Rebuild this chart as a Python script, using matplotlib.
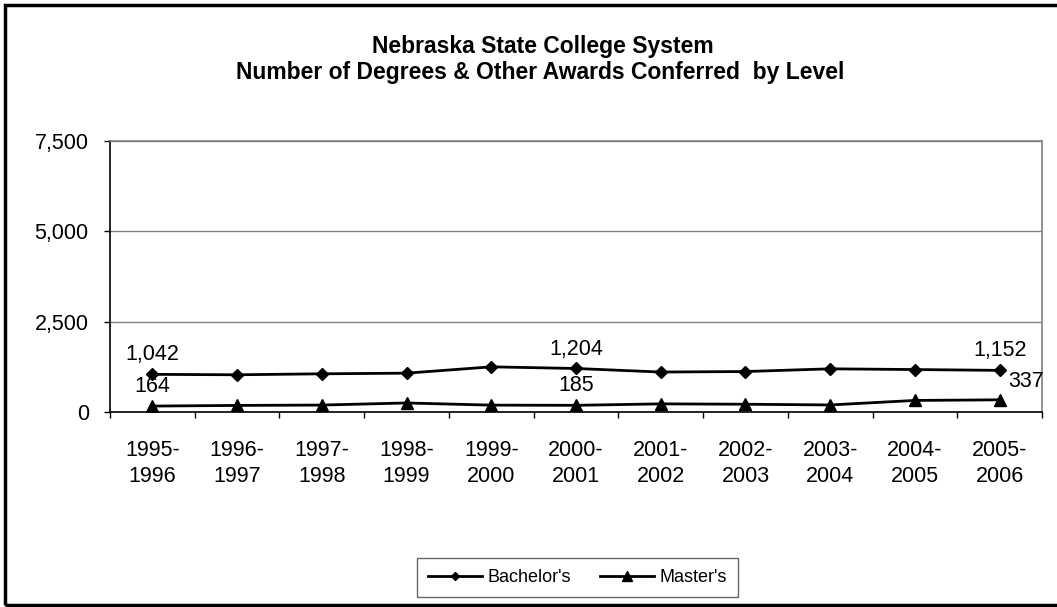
import matplotlib.pyplot as plt
from matplotlib.patches import Rectangle
from matplotlib.ticker import FuncFormatter, FixedLocator

plt.rcParams['font.family'] = ['Liberation Sans', 'DejaVu Sans']

years = ['1995-\n1996', '1996-\n1997', '1997-\n1998', '1998-\n1999', '1999-\n2000',
         '2000-\n2001', '2001-\n2002', '2002-\n2003', '2003-\n2004', '2004-\n2005',
         '2005-\n2006']
bachelors = [1042, 1030, 1057, 1075, 1250, 1204, 1106, 1120, 1195, 1175, 1152]
masters = [164, 182, 192, 250, 190, 185, 225, 215, 195, 320, 337]
# only some points carry a value label in the original
bach_labeled = [0, 5, 10]
mast_labeled = [0, 5]

W, H = 1057, 607
fig = plt.figure(figsize=(W / 100, H / 100), dpi=100)
ax = fig.add_axes([110 / W, 1 - 412 / H, (1042 - 110) / W, (412 - 141) / H])

x = list(range(len(years)))
ax.plot(x, bachelors, color='black', lw=2, marker='D', ms=6, label="Bachelor's")
ax.plot(x, masters, color='black', lw=2, marker='^', ms=9, label="Master's")

for i in bach_labeled:
    ax.annotate(f"{bachelors[i]:,}", (i, bachelors[i]), xytext=(0, 14),
                textcoords='offset points', ha='center', va='center', fontsize=15.5)
for i in mast_labeled:
    ax.annotate(f"{masters[i]:,}", (i, masters[i]), xytext=(0, 14),
                textcoords='offset points', ha='center', va='center', fontsize=15.5)
ax.annotate(f"{masters[-1]:,}", (x[-1], masters[-1]), xytext=(19, 13),
            textcoords='offset points', ha='center', va='center', fontsize=15.5,
            annotation_clip=False)

ax.set_xlim(-0.5, len(years) - 0.5)
ax.set_ylim(0, 7500)
ax.set_yticks([0, 2500, 5000, 7500])
ax.yaxis.set_major_formatter(FuncFormatter(lambda v, p: f"{int(v):,}"))
ax.set_xticks(x)
ax.set_xticklabels(years, linespacing=1.3)
ax.xaxis.set_minor_locator(FixedLocator([i - 0.5 for i in range(len(years) + 1)]))
ax.tick_params(axis='x', which='major', length=0, pad=20, labelsize=15.5)
ax.tick_params(axis='x', which='minor', length=4, width=1, direction='out')
ax.tick_params(axis='y', length=4.3, width=1, direction='out', pad=11, labelsize=15.5)

ax.grid(axis='y', color='#808080', lw=1)
ax.set_axisbelow(True)
for side in ['top', 'right']:
    ax.spines[side].set_color('#808080')
    ax.spines[side].set_linewidth(1.2)
for side in ['left', 'bottom']:
    ax.spines[side].set_color('black')
    ax.spines[side].set_linewidth(1.2)

fig.text(543 / W, 1 - 53 / H, 'Nebraska State College System', ha='center',
         va='baseline', fontsize=16.5, fontweight='bold')
fig.text(540.5 / W, 1 - 79 / H, 'Number of Degrees & Other Awards Conferred  by Level',
         ha='center', va='baseline', fontsize=16.5, fontweight='bold')

leg = fig.legend(loc='lower center', bbox_to_anchor=(577.5 / W, 10 / H), ncol=2,
                 fontsize=13, frameon=True, fancybox=False, handlelength=3.0,
                 handletextpad=0.3, columnspacing=1.6, markerscale=0.75,
                 borderpad=0.6, borderaxespad=0)
leg.get_frame().set_edgecolor('#404040')
leg.get_frame().set_linewidth(1)

fig.patches.append(Rectangle((5 / W, 2 / H), 1.2, 1 - 7 / H, transform=fig.transFigure,
                             fill=False, edgecolor='black', lw=2.5, clip_on=False))

fig.savefig('out.png', dpi=100)
